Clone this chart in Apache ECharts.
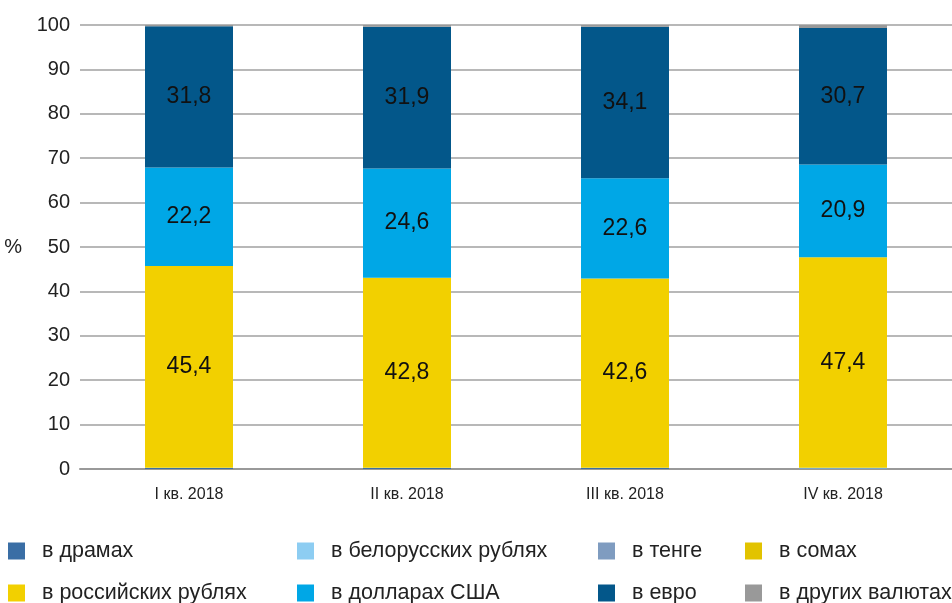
<!DOCTYPE html>
<html>
<head>
<meta charset="utf-8">
<script src="https://cdn.jsdelivr.net/npm/echarts@6/dist/echarts.min.js"></script>
<style>
  html, body { margin: 0; padding: 0; background: #fff; }
  #chart { width: 952px; height: 603px; }
</style>
</head>
<body>
<div id="chart"></div>
<script>
// данные
const quarters = ['I кв. 2018', 'II кв. 2018', 'III кв. 2018', 'IV кв. 2018'];
const yTicks = [0, 10, 20, 30, 40, 50, 60, 70, 80, 90, 100];

const drams = [0.2, 0.2, 0.2, 0.1];
const belRub = [0.1, 0.1, 0.1, 0.2];
const tenge = [0, 0, 0, 0];
const soms = [0, 0, 0, 0];
const rusRub = [45.4, 42.8, 42.6, 47.4];
const usd = [22.2, 24.6, 22.6, 20.9];
const euro = [31.8, 31.9, 34.1, 30.7];
const other = [0.3, 0.4, 0.4, 0.7];

const FONT = 'Liberation Sans';

const chart = echarts.init(document.getElementById('chart'));

function makeSeries(name, data, color, showLabel) {
    return {
        name: name,
        type: 'bar',
        stack: 'all',
        barWidth: 88,
        data: data,
        itemStyle: { color: color },
        label: {
            show: !!showLabel,
            position: 'inside',
            color: '#111',
            fontFamily: FONT,
            fontSize: 23,
            formatter: p => String(p.value).replace('.', ',')
        },
        emphasis: { disabled: true }
    };
}

const series = [
    makeSeries('в драмах', drams, '#3a6ea5'),
    makeSeries('в белорусских рублях', belRub, '#8dcdf2'),
    makeSeries('в тенге', tenge, '#7f9cc0'),
    makeSeries('в сомах', soms, '#e2c300'),
    makeSeries('в российских рублях', rusRub, '#f2d000', true),
    makeSeries('в долларах США', usd, '#00a7e6', true),
    makeSeries('в евро', euro, '#03578a', true),
    makeSeries('в других валютах', other, '#999999')
];

// легенда: по одному элементу, 4 колонки x 2 строки
const legendCols = [3, 292, 593, 740];
const legendRows = [535, 577];
const legendOrder = [
    ['в драмах', 'в белорусских рублях', 'в тенге', 'в сомах'],
    ['в российских рублях', 'в долларах США', 'в евро', 'в других валютах']
];
const legends = [];
legendOrder.forEach((row, r) => {
    row.forEach((name, c) => {
        legends.push({
            left: legendCols[c],
            top: legendRows[r],
            itemWidth: 17,
            itemHeight: 17,
            itemGap: 0,
            icon: 'rect',
            selectedMode: false,
            data: [name],
            textStyle: { fontFamily: FONT, fontSize: 21.5, color: '#222', padding: [0, 0, 0, 12] }
        });
    });
});

chart.setOption({
    animation: false,
    textStyle: { fontFamily: FONT },
    grid: { left: 80, right: 0, top: 25, bottom: 134 },
    legend: legends,
    xAxis: {
        type: 'category',
        data: quarters,
        axisLine: { lineStyle: { color: '#999', width: 2 } },
        axisTick: { show: false },
        axisLabel: { fontFamily: FONT, fontSize: 16, color: '#222', margin: 18 }
    },
    yAxis: {
        type: 'value',
        min: 0,
        max: 100,
        interval: 10,
        name: '%',
        nameLocation: 'middle',
        nameRotate: 0,
        nameGap: 58,
        nameTextStyle: { fontFamily: FONT, fontSize: 20, color: '#222' },
        axisLine: { show: false },
        axisTick: { show: false },
        splitLine: { lineStyle: { color: '#a0a0a0', width: 1.5 } },
        axisLabel: {
            fontFamily: FONT, fontSize: 20, color: '#222', margin: 10,
            formatter: v => yTicks.includes(v) ? String(v) : ''
        }
    },
    series: series
});
</script>
</body>
</html>
